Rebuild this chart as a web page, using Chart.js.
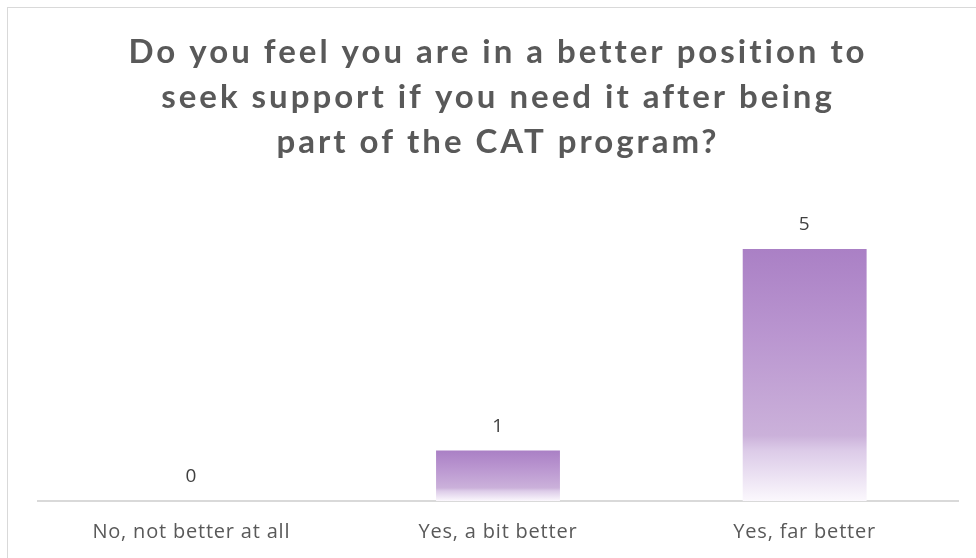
<!DOCTYPE html>
<html>
<head>
<meta charset="utf-8">
<script src="https://cdn.jsdelivr.net/npm/chart.js@4"></script>
<style>
  html, body { margin: 0; padding: 0; background: #fff; overflow: hidden; }
  #frame {
    position: absolute; left: 7px; top: 7px; width: 1000px; height: 600px;
    border: 1.5px solid #d9d9d9; box-sizing: border-box;
  }
  #wrap { position: absolute; left: 0; top: 0; width: 976px; height: 558px; }
</style>
</head>
<body>
<div id="frame"></div>
<div id="wrap"><canvas id="supportChart" width="976" height="558"></canvas></div>
<script>
// Survey: better position to seek support after the CAT program
const titleLines = [
  "Do you feel you are in a better position to",
  "seek support if you need it after being",
  "part of the CAT program?",
];
const categories = ["No, not better at all", "Yes, a bit better", "Yes, far better"];
const responses = [0, 1, 5];

// vertical purple fade, built per bar from its value
function barGradient(context) {
  const chart = context.chart;
  const { ctx, chartArea, scales } = chart;
  if (!chartArea || !scales.y) return "#ab82c5";
  const top = scales.y.getPixelForValue(context.raw);
  const bottom = scales.y.getPixelForValue(0);
  if (bottom - top < 1) return "#ab82c5";
  const g = ctx.createLinearGradient(0, top, 0, bottom);
  g.addColorStop(0, "#aa80c5");
  g.addColorStop(0.35, "#ba96d0");
  g.addColorStop(0.74, "#cbb1da");
  g.addColorStop(0.8, "#dccbe8");
  g.addColorStop(1, "#fbf8fd");
  return g;
}

// a touch of tracking for the axis labels
const tracking = {
  id: "tracking",
  beforeDraw(chart) {
    chart.ctx.letterSpacing = "0.8px";
  },
};

const titlePlugin = {
  id: "wideTitle",
  afterDraw(chart) {
    const ctx = chart.ctx;
    ctx.save();
    ctx.font = "bold 33px Lato";
    ctx.letterSpacing = "3px";
    ctx.fillStyle = "#595959";
    ctx.textAlign = "center";
    ctx.textBaseline = "alphabetic";
    titleLines.forEach((line, i) => {
      ctx.fillText(line, 498, 63 + i * 45);
    });
    ctx.restore();
  },
};

const valueLabels = {
  id: "valueLabels",
  afterDatasetsDraw(chart) {
    const ctx = chart.ctx;
    ctx.save();
    ctx.font = "19px 'Open Sans'";
    ctx.fillStyle = "#404040";
    ctx.textAlign = "center";
    ctx.textBaseline = "alphabetic";
    chart.getDatasetMeta(0).data.forEach((bar, i) => {
      const { x, y } = bar.getProps(["x", "y"], true);
      ctx.fillText(String(responses[i]), x, y - 19);
    });
    ctx.restore();
  },
};

new Chart(document.getElementById("supportChart"), {
  type: "bar",
  data: {
    labels: categories,
    datasets: [
      {
        data: responses,
        backgroundColor: barGradient,
        borderWidth: 0,
        barPercentage: 0.404,
        categoryPercentage: 1,
      },
    ],
  },
  options: {
    responsive: false,
    animation: false,
    layout: { padding: { left: 38, right: 18, top: 249, bottom: -5 } },
    plugins: {
      legend: { display: false },
      title: { display: false },
      tooltip: { enabled: false },
    },
    scales: {
      x: {
        grid: { display: false, drawTicks: false },
        border: { display: true, color: "#d9d9d9", width: 2 },
        ticks: {
          color: "#595959",
          font: { family: "'Open Sans'", size: 20 },
          padding: 19,
          maxRotation: 0,
        },
      },
      y: {
        display: false,
        min: 0,
        max: 5,
      },
    },
  },
  plugins: [tracking, titlePlugin, valueLabels],
});
</script>
</body>
</html>
